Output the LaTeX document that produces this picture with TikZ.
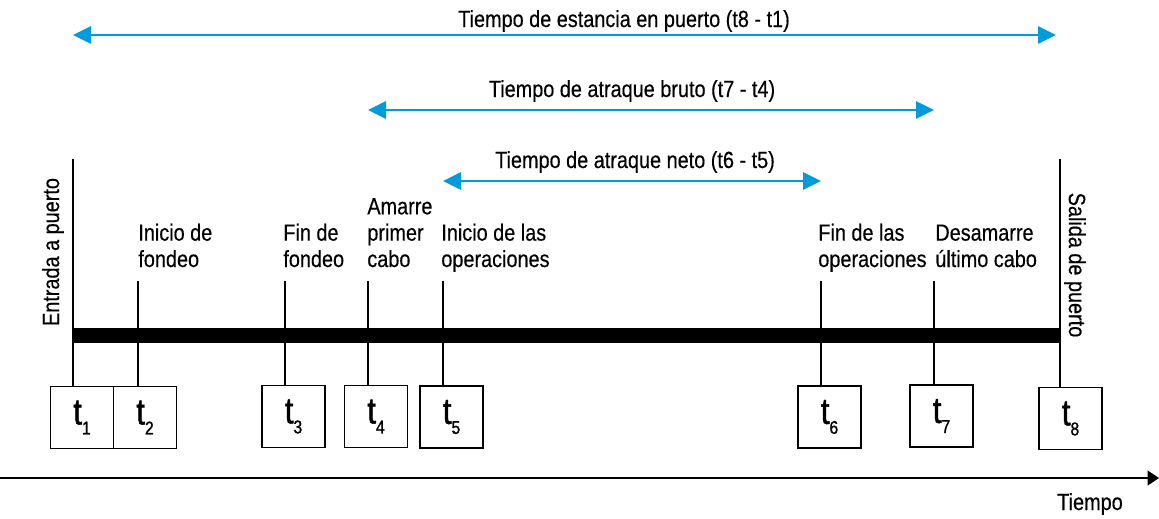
\documentclass[tikz,border=0pt]{standalone}
\usepackage{fontspec}
\setmainfont[FakeStretch=0.85,FakeBold=0.4]{Liberation Sans}
\newfontfamily\boxfont[FakeStretch=0.85,FakeBold=1.2]{Liberation Sans}
\usepackage{tikz}
\usetikzlibrary{positioning,arrows.meta,calc}
\definecolor{portblue}{RGB}{0,155,218}
\newcommand\lblfont{\fontsize{13.3}{15}\selectfont}
\newcommand\tsub[1]{t\raisebox{-0.2cm}{\fontsize{10.5}{11}\selectfont #1}}
\tikzset{
  span/.style  ={{Triangle[length=0.36cm,width=0.34cm]}-{Triangle[length=0.36cm,width=0.34cm]}, line width=1.7pt, draw=portblue},
  bar/.style   ={line width=0.3cm},
  stem/.style  ={line width=0.6pt},
  tbox/.style  ={draw, line width=0.75pt, minimum width=1.26cm, minimum height=1.24cm, inner sep=0pt, font=\boxfont\fontsize{21}{22}\selectfont},
  event/.style ={align=left, anchor=base west, inner sep=0pt, font=\lblfont},
  lbl/.style   ={inner sep=0pt, font=\lblfont},
  axis/.style  ={-{Triangle[length=0.23cm,width=0.3cm]}, line width=0.75pt},
}

\begin{document}
\begin{tikzpicture}[x=0.02cm, y=-0.02cm]
  \useasboundingbox (0,0) rectangle (1159,518);
  % Reference rows
  \coordinate (r1)  at (0,35);
  \coordinate (r2)  at (0,110);
  \coordinate (r3)  at (0,181);
  \coordinate (top) at (0,159);
  \coordinate (low) at (0,281);
  % Event ticks on the stay bar
  \coordinate (k1) at (73,335);
  \coordinate (k2) at (138,335);
  \coordinate (k3) at (285,335);
  \coordinate (k4) at (368,335);
  \coordinate (k5) at (443,335);
  \coordinate (k6) at (821,335);
  \coordinate (k7) at (934,335);
  \coordinate (k8) at (1060,335);

  % Time boxes
  \node[tbox] (b1) at (82,417.5)   {\tsub{1}};
  \node[tbox] (b2) at (145,417.5)  {\tsub{2}};
  \node[tbox] (b3) at (293.5,416.5) {\tsub{3}};
  \node[tbox] (b4) at (376,416.5)  {\tsub{4}};
  \node[tbox] (b5) at (451.5,417)  {\tsub{5}};
  \node[tbox] (b6) at (829.5,417)  {\tsub{6}};
  \node[tbox] (b7) at (941.5,416)  {\tsub{7}};
  \node[tbox] (b8) at (1070.5,418.5) {\tsub{8}};

  % Stems down to the boxes
  \draw[stem] (k1 |- top) -- (k1 |- b1.north);
  \draw[stem] (k8 |- top) -- (k8 |- b8.north);
  \draw[stem] (k2 |- low) -- (k2 |- b2.north);
  \draw[stem] (k3 |- low) -- (k3 |- b3.north);
  \draw[stem] (k4 |- low) -- (k4 |- b4.north);
  \draw[stem] (k5 |- low) -- (k5 |- b5.north);
  \draw[stem] (k6 |- low) -- (k6 |- b6.north);
  \draw[stem] (k7 |- low) -- (k7 |- b7.north);

  % Stay bar
  \draw[bar] (k1) -- (k8);

  % Durations
  \draw[span, shorten >=0.08cm] (k1 |- r1) -- (k8 |- r1);
  \draw[span] (k4 |- r2) -- (k7 |- r2);
  \draw[span] (k5 |- r3) -- (k6 |- r3);
  \node[lbl, anchor=base] (stay)  at (624,27)  {Tiempo de estancia en puerto (t8 - t1)};
  \node[lbl, anchor=base] (gross) at (632,97)  {Tiempo de atraque bruto (t7 - t4)};
  \node[lbl, anchor=base] (net)   at (635,168) {Tiempo de atraque neto (t6 - t5)};

  % Event captions
  \node[lbl, rotate=90]  (entry) at (53,252)  {Entrada a puerto};
  \node[lbl, rotate=-90] (exit)  at (1075,265) {Salida de puerto};
  \node[event] (anch1) at (138,267) {Inicio de\\fondeo};
  \node[event] (anch2) at (283,267) {Fin de\\fondeo};
  \node[event] (moor)  at (367,267) {Amarre\\primer\\cabo};
  \node[event] (ops1)  at (441,267) {Inicio de las\\operaciones};
  \node[event] (ops2)  at (818,267) {Fin de las\\operaciones};
  \node[event] (unmoor) at (935,267) {Desamarre\\último cabo};

  % Time axis
  \coordinate (ax0) at (0,478);
  \coordinate (ax1) at (1159,478);
  \draw[axis] (ax0) -- (ax1);
  \node[lbl, anchor=base] (time) at (1090,510) {Tiempo};
\end{tikzpicture}
\end{document}
